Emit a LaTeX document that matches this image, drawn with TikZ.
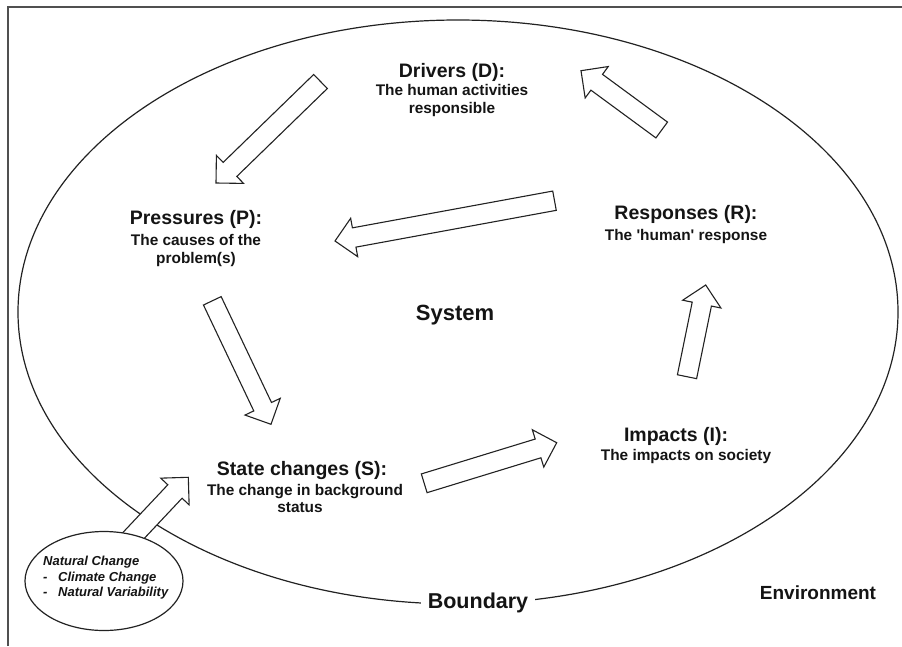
\documentclass[tikz,border=0pt]{standalone}
\usepackage{fontspec}
\setmainfont{Liberation Sans}[Ligatures=TeXOff]
\usetikzlibrary{calc,shapes.geometric}
\definecolor{ink}{HTML}{141414}
\definecolor{linec}{HTML}{222222}
\definecolor{framec}{HTML}{505050}
% block arrow from named tail coordinate #1 to named tip coordinate #2
\newcommand\blkarrow[2]{%
  \coordinate (hb-#1) at ($(#2)!19.5pt!(#1)$);
  \draw[barrow] ($(#1)!9.8pt!90:(#2)$) -- ($(hb-#1)!9.8pt!90:(#2)$)
    -- ($(hb-#1)!19.5pt!90:(#2)$) -- (#2)
    -- ($(hb-#1)!19.5pt!-90:(#2)$) -- ($(hb-#1)!9.8pt!-90:(#2)$)
    -- ($(#1)!9.8pt!-90:(#2)$) -- cycle;}
\begin{document}
\begin{tikzpicture}[x=1pt,y=-1pt,
  ttl/.style={font=\fontsize{19.5}{22}\selectfont\bfseries, text=ink, inner sep=0pt, anchor=base},
  sub/.style={font=\fontsize{15.4}{18}\selectfont\bfseries, text=ink, inner sep=0pt, anchor=base},
  big/.style={font=\fontsize{22}{24}\selectfont\bfseries, text=ink},
  nat/.style={font=\fontsize{13}{15}\selectfont\bfseries\itshape, text=ink, inner sep=0pt, anchor=base west},
  barrow/.style={draw=linec, line width=1.1pt, fill=white, line join=miter},
  bound/.style={draw=linec, line width=1.2pt},
  framel/.style={draw=framec, line width=1.3pt}]
\useasboundingbox (0,0) rectangle (902,646);
% frame
\draw[framel] (8,646) -- (8,7) -- (902,7);
% system boundary
\node[bound, ellipse, minimum width=880pt, minimum height=584pt, inner sep=0pt] (sysb) at (458,312) {};
% texts
\node[ttl] (dt) at (452,77) {Drivers (D):};
\node[sub] (ds1) at (452,95) {The human activities};
\node[sub] (ds2) at (452,113) {responsible};
\node[ttl] (pt) at (196,224) {Pressures (P):};
\node[sub] (ps1) at (196,245) {The causes of the};
\node[sub] (ps2) at (196,263) {problem(s)};
\node[ttl] (rt) at (686,219) {Responses (R):};
\node[sub] (rs1) at (686,240) {The 'human' response};
\node[ttl] (it) at (676,441) {Impacts (I):};
\node[sub] (is1) at (686,460) {The impacts on society};
\node[ttl] (st) at (302,475) {State changes (S):};
\node[sub] (ss1) at (305,495) {The change in background};
\node[sub] (ss2) at (300,512) {status};
\node[big] (sys) at (455,315) {System};
\node[big, font=\fontsize{21.5}{24}\selectfont\bfseries, fill=white, inner xsep=7pt, inner ysep=2pt] (bnd) at (478,603) {Boundary};
\node[big, font=\fontsize{19}{22}\selectfont\bfseries] (env) at (818,593) {Environment};
% arrow ends
\coordinate (a1t) at (320.5,81.5);  \coordinate (a1h) at (216,183);
\coordinate (a2t) at (661.7,130);   \coordinate (a2h) at (581,70.7);
\coordinate (a3t) at (554.5,200.7); \coordinate (a3h) at (335,241);
\coordinate (a4t) at (212.3,300.8); \coordinate (a4h) at (271,424.3);
\coordinate (a5t) at (687,376.7);   \coordinate (a5h) at (705.7,285);
\coordinate (a6t) at (424.2,483.3); \coordinate (a6h) at (556.7,442.7);
\coordinate (a7t) at (118,552);     \coordinate (a7h) at (188.3,477.3);
\blkarrow{a1t}{a1h}
\blkarrow{a2t}{a2h}
\blkarrow{a3t}{a3h}
\blkarrow{a4t}{a4h}
\blkarrow{a5t}{a5h}
\blkarrow{a6t}{a6h}
\blkarrow{a7t}{a7h}
% natural change
\node[bound, ellipse, fill=white, minimum width=158pt, minimum height=99pt, inner sep=0pt] (natb) at (104,581) {};
\node[nat] (n1) at (43,565) {Natural Change};
\node[nat] (n2) at (43,581) {\makebox[15pt][l]{-}Climate Change};
\node[nat] (n3) at (43,596) {\makebox[15pt][l]{-}Natural Variability};
\end{tikzpicture}
\end{document}
